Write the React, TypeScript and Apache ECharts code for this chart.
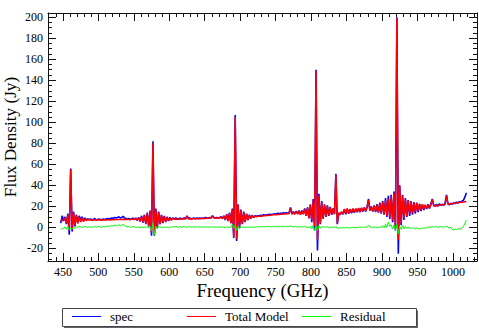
import React, { useEffect, useRef } from "react";
import * as echarts from "echarts";

// Channel grid of the spectrum (GHz)
const FREQ_START = 447;
const FREQ_STEP = 2;

// Observed spectrum (Jy)
const spec = [
  4, 11, 6, 10, 3, 13, -7, 56, -4, 15,
  1, 12, 5, 11, 7, 10, 6, 9, 7, 8,
  7.5, 8, 7, 7.5, 8.5, 7, 7.5, 8, 7.5, 7,
  8, 7.5, 8, 8.5, 8, 8.5, 9, 8.5, 9.5, 9,
  9.5, 10, 9, 9.5, 10.5, 9, 8.5, 8, 8.5, 7.5,
  8, 9, 7.5, 9, 6.5, 9.5, 5.5, 11, 4.5, 12,
  3, 14, 1, 16, -8, 82, -8, 18, -1, 15,
  3, 12, 4, 11, 5, 10, 6, 9.5, 7, 9,
  8, 9, 8.5, 7.5, 9, 8, 8.5, 9, 8, 11,
  8.5, 9, 8, 8.5, 9, 8, 9, 8.5, 9, 8.5,
  9, 8.5, 9.5, 9, 8.5, 9.5, 9, 11, 9.5, 9,
  9.5, 9, 9.5, 10, 8.5, 11, 7, 12.5, 6, 14,
  4, 18, -10, 107, -13, 22, -1, 17, 3, 15,
  5, 13, 7, 12, 8.5, 11.5, 9.5, 11, 10.5, 11,
  11, 11.5, 11, 12, 11.5, 12, 12, 12.5, 12, 12.5,
  12.5, 13, 12.5, 13.5, 13, 13.5, 13, 14, 13.5, 14,
  13.5, 14, 19, 13, 15, 13, 15.5, 13, 16, 12.5,
  16, 13, 18, 11, 19, 8.5, 22, 5, 27, -3,
  150, -22, 32, 3, 25, 8, 22, 10, 21, 11,
  19.5, 12, 18, 12.5, 51, 3, 13.5, 12, 14.5, 12.5,
  17, 12.5, 17.5, 13, 17, 13.5, 17.5, 14, 17.5, 14.5,
  18, 14.5, 18.5, 15, 19, 15, 19.5, 27, 16, 20,
  15, 21, 14.5, 22, 14, 23.5, 13, 25, 12, 28,
  10, 30, 8, 31, 5, 34, -3, 200, -25, 40,
  2, 31, 7, 28, 10, 26, 11, 25, 12, 24,
  13, 23.5, 14.5, 22, 15.5, 21.5, 16.5, 21, 17.5, 22,
  18, 22.5, 27, 21, 20.5, 22, 20, 22.5, 21, 22,
  21, 23, 31, 22.5, 21.5, 23, 22, 23.5, 22.5, 24,
  23, 24.5, 24, 25, 26, 29, 33,
];

// Total model (Jy)
const totalModel = [
  7, 6.5, 7.5, 9, 4, 12, -3, 55, -2, 14,
  2, 11.5, 3.5, 10, 5, 9, 5.5, 8, 6.5, 7.5,
  7, 7.2, 6.8, 7, 7.1, 7, 6.9, 7, 7.2, 7.1,
  7, 7.2, 7.1, 7.3, 7.2, 7, 7.3, 7.4, 7.3, 7.5,
  7.4, 7.6, 7.5, 7.5, 7.7, 7.6, 7.5, 7.8, 7.6, 7.5,
  7.7, 8, 7.4, 8.5, 6.8, 9, 6.2, 10, 5, 11.5,
  3.5, 13, 1.5, 15.5, -5, 80, -6, 17, 0, 14,
  3, 11.5, 4.5, 10.5, 5.5, 9.5, 6.5, 9, 7, 8.5,
  7.5, 8, 7.8, 8, 7.9, 8, 8.1, 7.9, 8, 10.5,
  8, 8.1, 8, 8.2, 8.1, 8.3, 8.2, 8.4, 8.3, 8.5,
  8.4, 8.6, 8.5, 8.7, 8.6, 8.8, 8.9, 10.5, 9.2, 8.9,
  9, 9.2, 8.8, 9.8, 8.2, 10.8, 7.4, 12, 6.2, 13.5,
  4, 17, -9, 105, -11, 21, 0, 16, 3.5, 14,
  5.5, 12.5, 7, 11.5, 8.5, 11, 9.5, 10.8, 10, 10.6,
  10.5, 10.8, 10.7, 11, 11, 11.2, 11.3, 11.5, 11.6, 11.8,
  11.9, 12, 12.1, 12.3, 12.3, 12.5, 12.6, 12.7, 12.8, 13,
  13, 13.1, 18, 12.5, 14.5, 12.5, 15, 12.5, 15.5, 12,
  15.5, 12.5, 17, 11, 18.5, 9, 21, 6.5, 25, 1,
  149, -12, 30, 4, 24, 8, 21.5, 10, 20, 11.5,
  19, 12.5, 17.5, 13, 50, 4, 14, 12.5, 15, 13,
  17.5, 13, 18, 13.5, 17.5, 14, 18, 14.5, 18, 15,
  18.5, 15, 18.5, 15.5, 19, 15.5, 19, 26, 16, 19.5,
  15.5, 20.5, 15, 21.5, 14.5, 22.5, 13.5, 24, 12.5, 25.5,
  11, 27, 9.5, 29.5, 6.5, 33, 0, 199, -12, 39,
  4, 30, 9, 27, 11, 25.5, 12.5, 24.5, 13.5, 23.5,
  14.5, 23, 15.5, 22.5, 16.5, 22, 17.5, 21.5, 18, 21.5,
  18.5, 21.5, 26.5, 20.5, 20, 21, 20.8, 21.2, 21.3, 21.5,
  21.6, 21.8, 30, 22, 22.2, 22.4, 22.6, 22.8, 23, 23.2,
  23.4, 23.6, 23.8, 24, 24.2, 24.4, 24.6,
];

// Residual (Jy)
const residual = [
  -2, -1, -1.5, 0.5, -2, 1, -2.5, -1, -1.5, 0,
  -1, 0.5, 0, 1, 0.5, 0, 0.5, 1, 0.5, 0,
  0.5, 0.3, 0, 0.5, 1, 0, 0.5, 1, 0.3, 0,
  1, 0.3, 1, 1.2, 0.8, 1.5, 1.6, 1.2, 2.2, 1.5,
  2, 2.5, 1.5, 2, 3, 1.5, 1, 0.5, 1, 0,
  0.3, 1, 0.1, 0.5, -0.3, 0.5, -0.7, 1, -0.5, 0.5,
  -0.5, 1, -0.5, 0.5, -3, 4, -7, 1, -1, 1,
  0, 0.5, -0.5, 0.5, -0.5, 0.5, -0.5, 0.5, 0, 0.5,
  0.5, 1, 0.7, -0.5, 1, 0, 0.5, 1, 0, 0.5,
  0.5, 0.9, 0, 0.3, 0.9, -0.3, 0.8, 0.1, 0.7, 0,
  0.6, -0.1, 1, 0.3, -0.1, 0.7, 0.1, 0.5, 0.3, 0.1,
  0.5, -0.2, 0.7, 0.2, 0.3, 0.2, -0.4, 0.5, -0.2, 0.5,
  0, 3, -1, 2, -3, 1, -1, 1, -0.5, 1,
  -0.5, 0.5, 0, 0.5, 0, 0.5, 0, 0.2, 0.5, 0.4,
  0.5, 0.7, 0.3, 1, 0.5, 0.8, 0.7, 1, 0.4, 0.7,
  0.6, 1, 0.4, 1.2, 0.7, 1, 0.4, 1.3, 0.7, 1,
  0.5, 0.9, 1.5, 0.5, 0.6, 0.9, 0.2, 1, 0.3, 0.5,
  0.5, 0.5, 1, 0, 0.5, -0.5, 1, -1.5, 2, -3,
  1, -3, 2, -1, 1, 0, 0.5, 0, 1, -0.5,
  0.5, -0.5, 0.5, -0.5, 1, -1, -0.5, -0.5, -0.5, -0.5,
  -0.4, -0.6, 0, -0.8, -0.2, -0.3, 0.1, -0.5, 0, -0.2,
  0, 0.4, -0.2, 0.5, 0, 0.3, 0.5, 2, 0.2, 0.5,
  -0.5, 0.5, 0, 0.2, -0.5, 1, -0.5, 1.5, -0.5, 3,
  0, 5, 1, 2.5, -1.5, 2, -3, 3, -6, 1,
  -2, 2, -1.5, 1, -1, 0.5, -1.5, 0, -1, -0.5,
  -1.5, -0.5, -1, -1.5, -1, -0.5, -1, -0.5, -0.5, 0.5,
  -0.5, 0.5, 0.5, 0.5, 0.5, 1, -0.5, 1, 0.7, 0.5,
  -0.5, 1, 1, 0.5, -1, 0.5, -2, -2.5, -1.5, -2,
  -1.5, -1, -2, -0.5, 1, 4, 7,
];

const seriesNames = ["spec", "Total Model", "Residual"];
const seriesColors = ["#0000ff", "#ff0000", "#00ff00"];
const seriesWidths = [1.6, 1.5, 1];

const xTitle = "Frequency (GHz)";
const yTitle = "Flux Density (Jy)";

const X_MIN = 429;
const X_MAX = 1034;
const Y_MIN = -32;
const Y_MAX = 204;

const xMajorTicks = [450, 500, 550, 600, 650, 700, 750, 800, 850, 900, 950, 1000];
const xMinorTicks = [
  430, 440, 460, 470, 480, 490, 510, 520, 530, 540, 560, 570, 580, 590,
  610, 620, 630, 640, 660, 670, 680, 690, 710, 720, 730, 740, 760, 770,
  780, 790, 810, 820, 830, 840, 860, 870, 880, 890, 910, 920, 930, 940,
  960, 970, 980, 990, 1010, 1020, 1030,
];
const yMajorTicks = [-20, 0, 20, 40, 60, 80, 100, 120, 140, 160, 180, 200];
const yMinorTicks = [
  -30, -25, -15, -10, -5, 5, 10, 15, 25, 30, 35, 45, 50, 55, 65, 70, 75,
  85, 90, 95, 105, 110, 115, 125, 130, 135, 145, 150, 155, 165, 170, 175,
  185, 190, 195,
];

const FONT = "Liberation Serif";
const AXIS_COLOR = "#111";

function toPairs(vals: number[]) {
  return vals.map((v, i) => [FREQ_START + FREQ_STEP * i, v]);
}

function makeAxis(dim: "x" | "y", position: string, ticks: number[], len: number, opts: any = {}) {
  const isX = dim === "x";
  return {
    type: "value",
    position,
    min: isX ? X_MIN : Y_MIN,
    max: isX ? X_MAX : Y_MAX,
    splitLine: { show: false },
    axisLine: { show: !!opts.line, onZero: false, lineStyle: { color: AXIS_COLOR, width: 1 } },
    axisTick: { show: true, inside: true, length: len, customValues: ticks, lineStyle: { color: AXIS_COLOR, width: 1 } },
    axisLabel: opts.labels
      ? {
          show: true,
          customValues: ticks,
          color: "#000",
          fontFamily: FONT,
          fontSize: 12,
          lineHeight: 12,
          margin: opts.margin ?? 5,
          formatter: (v: number) => String(v),
        }
      : { show: false },
  };
}

export default function App() {
  const ref = useRef<HTMLDivElement>(null);

  useEffect(() => {
    if (!ref.current) return;
    const chart = echarts.init(ref.current, null, { renderer: "svg" });
    const legendCommon = {
      orient: "horizontal",
      padding: 0,
      top: 310,
      icon: "rect",
      itemWidth: 29,
      itemHeight: 1,
      selectedMode: false,
      textStyle: { color: "#000", fontFamily: FONT, fontSize: 13, padding: [0, 0, 0, 4] },
    };
    chart.setOption({
      animation: false,
      backgroundColor: "#fff",
      textStyle: { fontFamily: FONT },
      grid: { left: 48, right: 2, top: 13, bottom: 71, containLabel: false },
      xAxis: [
        makeAxis("x", "bottom", xMajorTicks, 8, { line: true, labels: true, margin: 5 }),
        makeAxis("x", "bottom", xMinorTicks, 4),
        makeAxis("x", "top", xMajorTicks, 8, { line: true }),
        makeAxis("x", "top", xMinorTicks, 4),
      ],
      yAxis: [
        makeAxis("y", "left", yMajorTicks, 8, { line: true, labels: true, margin: 5 }),
        makeAxis("y", "left", yMinorTicks, 4),
        makeAxis("y", "right", yMajorTicks, 8, { line: true }),
        makeAxis("y", "right", yMinorTicks, 4),
      ],
      legend: [
        { ...legendCommon, data: [seriesNames[0]], left: 72 },
        { ...legendCommon, data: [seriesNames[1]], left: 187 },
        { ...legendCommon, data: [seriesNames[2]], left: 302 },
      ],
      graphic: [
        { type: "rect", z: 0, shape: { x: 64, y: 310.5, width: 354, height: 17.5 }, style: { fill: "#666" } },
        { type: "rect", z: 1, shape: { x: 62.5, y: 308.5, width: 354, height: 18 }, style: { fill: "#fff", stroke: "#444", lineWidth: 1 } },
        {
          type: "text",
          x: 262.5,
          y: 290,
          style: { text: xTitle, fontFamily: FONT, fontSize: 18.8, lineHeight: 18.8, fill: "#000", align: "center", verticalAlign: "middle" },
        },
        {
          type: "text",
          x: 10,
          y: 137,
          rotation: Math.PI / 2,
          style: { text: yTitle, fontFamily: FONT, fontSize: 17.2, lineHeight: 17.2, fill: "#000", align: "center", verticalAlign: "middle" },
        },
      ],
      series: [spec, totalModel, residual].map((vals, k) => ({
        name: seriesNames[k],
        type: "line",
        xAxisIndex: 0,
        yAxisIndex: 0,
        data: toPairs(vals),
        symbol: "none",
        showSymbol: false,
        color: seriesColors[k],
        lineStyle: { color: seriesColors[k], width: seriesWidths[k] },
        z: 2 + k,
      })),
    });
    return () => chart.dispose();
  }, []);

  return <div ref={ref} style={{ position: "fixed", left: 0, top: 0, width: 479, height: 332 }} />;
}
